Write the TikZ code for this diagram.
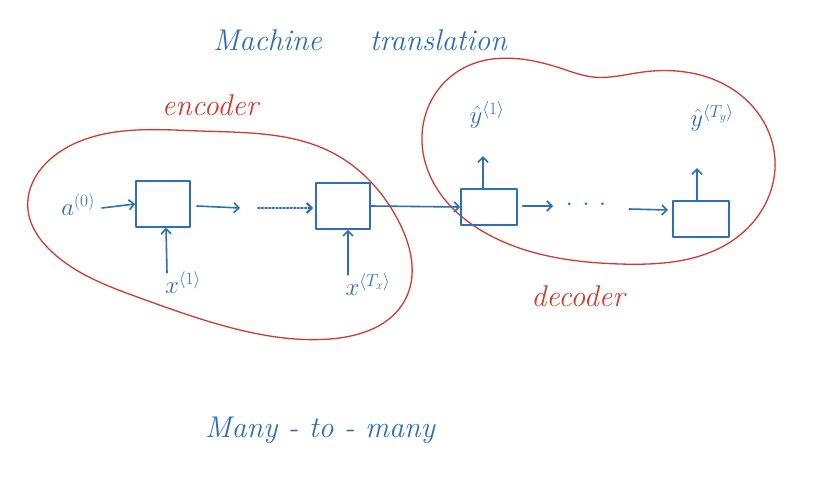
\documentclass[tikz,border=0pt]{standalone}
\usetikzlibrary{arrows.meta,hobby}
\definecolor{pen}{RGB}{45,110,185}
\definecolor{redpen}{RGB}{205,60,50}
\begin{document}
\begin{tikzpicture}[x=1pt,y=-1pt,
  ink/.style={draw=pen,line width=1.6pt,line cap=round,line join=round},
  cell/.style={ink,minimum width=54pt,minimum height=46pt,inner sep=0pt},
  dcell/.style={ink,minimum width=56pt,minimum height=36pt,inner sep=0pt},
  flow/.style={ink,-{Straight Barb[length=5pt,width=10pt]}},
  lbl/.style={text=pen,font=\fontsize{26}{28}\selectfont,inner sep=1pt},
  head/.style={text=pen,font=\itshape\fontsize{30}{32}\selectfont},
  redlbl/.style={text=redpen,font=\itshape\fontsize{30}{32}\selectfont},
  blob/.style={draw=redpen,line width=1.3pt}]
\useasboundingbox[fill=white] (0,0) rectangle (813,492);

% titles
\node[head] (title) at (360,40) {Machine\hspace{48pt}translation};
\node[head] (many) at (320,430) {Many - to - many};
\node[redlbl] (enc) at (210,105) {encoder};
\node[redlbl] (dec) at (578,296) {decoder};

% blobs
\draw[blob] plot[closed hobby] coordinates {
  (28,210) (83,140) (200,131) (333,153) (398,220)
  (405,300) (330,339) (240,330) (140,298) (50,250)};
\draw[blob] plot[closed hobby] coordinates {
  (422,135) (460,70) (560,68) (593,77) (643,72)
  (743,97) (775,160) (740,235) (620,264)
  (493,237) (432,180)};

% encoder
\node[cell] (e1) at (163,204) {};
\node[cell] (e2) at (343,206) {};
\node[lbl] (a0) at (78,205) {$a^{(0)}$};
\node[lbl] (x1) at (183,283) {$x^{\langle 1\rangle}$};
\node[lbl] (xT) at (368,285) {$x^{\langle T_x\rangle}$};
\coordinate (m1) at (240,208);
\coordinate (m2a) at (258,208);
\coordinate (m2) at (313,208);

\draw[flow] (a0.east) ++(6,3) -- (e1.west);
\draw[flow] (e1.east) ++(6,2) -- (m1);
\draw[flow,dotted,line width=2pt] (m2a) -- (m2);
\draw[flow] (x1.north) ++(-16,2) -- (e1.south -| {(166,0)});
\draw[flow] (xT.north) ++(-20,2) -- (e2.south -| {(348,0)});

% decoder
\node[dcell] (d1) at (489,207) {};
\node[dcell] (d2) at (701,219) {};
\node[lbl] (y1) at (487,115) {$\hat{y}^{\langle 1\rangle}$};
\node[lbl] (yT) at (712,118) {$\hat{y}^{\langle T_y\rangle}$};
\node[lbl] (ddots) at (586,205) {$\cdot\,\cdot\,\cdot$};
\coordinate (n1) at (553,206);
\coordinate (n2) at (668,210);

\draw[flow] (e2.east) -- (d1.west);
\draw[flow] (d1.east) ++(5,-1) -- (n1);
\draw[flow] (ddots.east) ++(22,4) -- (n2);
\draw[flow] (d1.north) ++(-6,0) -- ++(0,-32);
\draw[flow] (d2.north) ++(-4,0) -- ++(0,-32);
\end{tikzpicture}
\end{document}
